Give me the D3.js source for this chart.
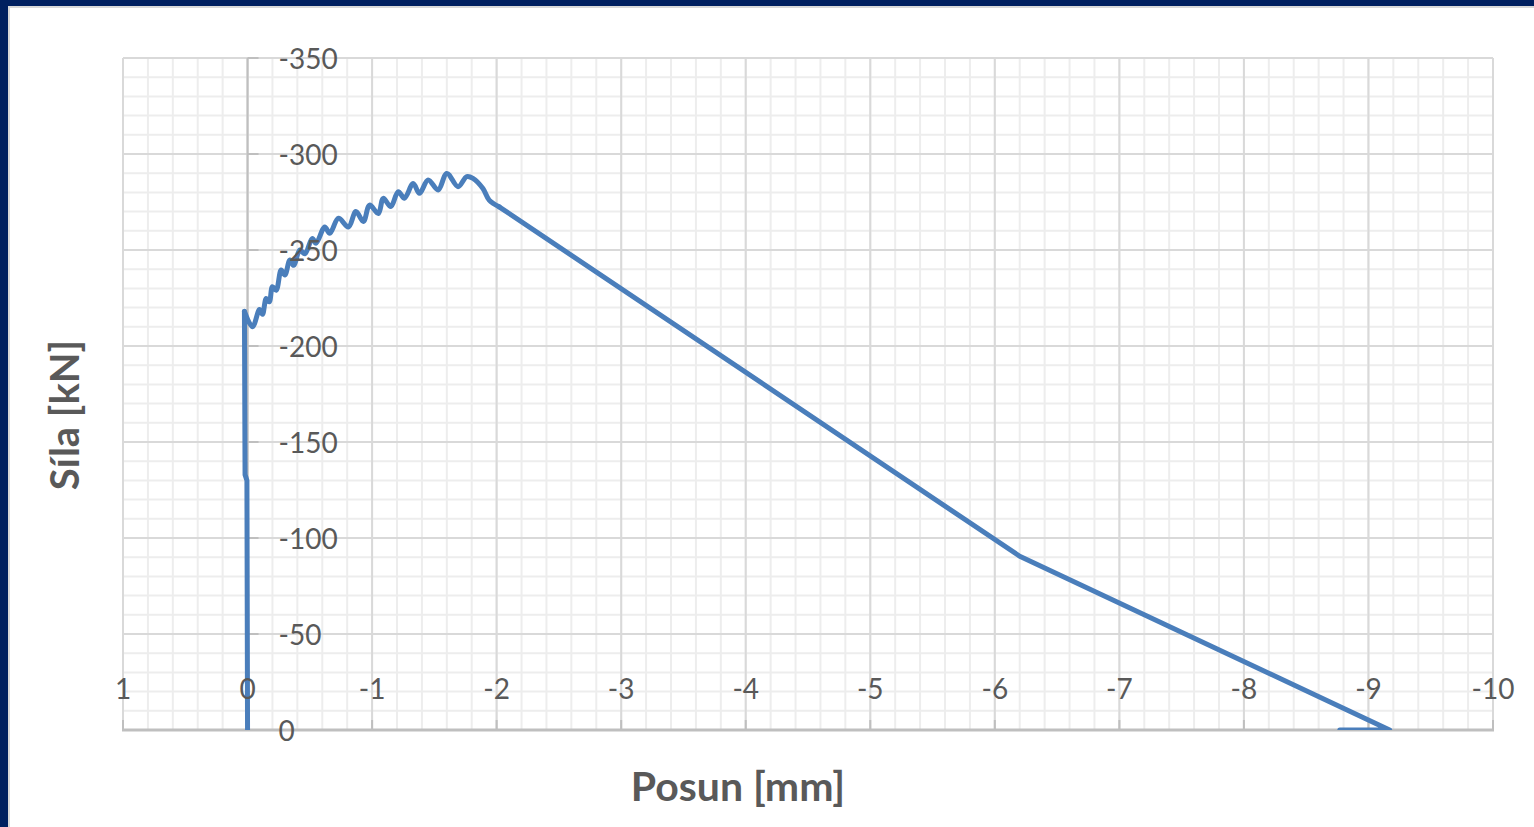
<!DOCTYPE html>
<html>
<head>
<meta charset="utf-8">
<script src="https://cdn.jsdelivr.net/npm/d3@7"></script>
<style>
  html, body { margin: 0; padding: 0; background: #002060; overflow: hidden; }
  svg { display: block; }
</style>
</head>
<body>
<svg id="chart" width="1534" height="827"></svg>
<script>
// Displacement [mm] and force [kN] of the measured load path
const posun = [0, 0.005, 0.02, 0.025, -0.04, -0.096, -0.12, -0.15, -0.175, -0.20, -0.23,
  -0.27, -0.30, -0.34, -0.37, -0.42, -0.46, -0.52, -0.55, -0.62, -0.66,
  -0.73, -0.81, -0.87, -0.93, -0.98, -1.05, -1.09, -1.15, -1.21, -1.26,
  -1.33, -1.38, -1.45, -1.53, -1.60, -1.69, -1.76, -1.81, -1.89, -1.94,
  -2.02, -6.2, -9.17, -8.77];
const sila = [0, -130, -133, -218, -210, -219, -216.5, -224.8, -223, -230.9, -229,
  -239.6, -237, -244.8, -242, -250, -248, -256, -253.5, -262, -258.7,
  -266.5, -262, -270, -264.8, -273.4, -269, -276.9, -272.6, -280.4, -277,
  -284.7, -279.5, -286.5, -281.3, -289.9, -283, -288.2, -287.3, -282, -276,
  -272.5, -90.5, 0, 0];

// Axis ticks
const xTicks = [1, 0, -1, -2, -3, -4, -5, -6, -7, -8, -9, -10];
const yTicks = [0, -50, -100, -150, -200, -250, -300, -350];

const svg = d3.select("#chart");

// chart area (white sheet inside the navy frame)
svg.append("rect")
  .attr("x", 9).attr("y", 7).attr("width", 1540).attr("height", 830)
  .attr("fill", "#ffffff").attr("stroke", "#d9d9d9").attr("stroke-width", 2);

const x = d3.scaleLinear().domain([1, -10]).range([123, 1493]);
const y = d3.scaleLinear().domain([0, -350]).range([730, 58]);

const grid = svg.append("g");

// minor gridlines
const xMinor = d3.range(0, 56).map(i => 1 - i * 0.2);
const yMinor = d3.range(0, 36).map(i => -i * 10);
grid.selectAll("line.xm").data(xMinor).join("line")
  .attr("x1", d => x(d)).attr("x2", d => x(d))
  .attr("y1", y(0)).attr("y2", y(-350))
  .attr("stroke", "#ededed").attr("stroke-width", 2);
grid.selectAll("line.ym").data(yMinor).join("line")
  .attr("y1", d => y(d)).attr("y2", d => y(d))
  .attr("x1", x(1)).attr("x2", x(-10))
  .attr("stroke", "#ededed").attr("stroke-width", 2);

// major gridlines
grid.selectAll("line.xM").data(xTicks).join("line")
  .attr("x1", d => x(d)).attr("x2", d => x(d))
  .attr("y1", y(0)).attr("y2", y(-350))
  .attr("stroke", "#d9d9d9").attr("stroke-width", 2);
grid.selectAll("line.yM").data(yTicks).join("line")
  .attr("y1", d => y(d)).attr("y2", d => y(d))
  .attr("x1", x(1)).attr("x2", x(-10))
  .attr("stroke", "#d9d9d9").attr("stroke-width", 2);

// vertical axis at x = 0 with inward ticks
const axisColor = "#bfbfbf";
svg.append("line")
  .attr("x1", x(0)).attr("x2", x(0)).attr("y1", y(0)).attr("y2", y(-350))
  .attr("stroke", axisColor).attr("stroke-width", 2);
svg.selectAll("line.yt").data(yTicks).join("line")
  .attr("x1", x(0)).attr("x2", x(0) + 11)
  .attr("y1", d => y(d)).attr("y2", d => y(d))
  .attr("stroke", axisColor).attr("stroke-width", 2);

// horizontal axis at y = 0 with upward ticks
svg.append("line")
  .attr("x1", x(1) - 1).attr("x2", x(-10) + 1).attr("y1", y(0)).attr("y2", y(0))
  .attr("stroke", axisColor).attr("stroke-width", 3);
svg.selectAll("line.xt").data(xTicks).join("line")
  .attr("x1", d => x(d)).attr("x2", d => x(d))
  .attr("y1", y(0)).attr("y2", y(0) - 10)
  .attr("stroke", axisColor).attr("stroke-width", 2);

// data series, clipped to the plot area
svg.append("clipPath").attr("id", "plotClip")
  .append("rect").attr("x", x(1)).attr("y", y(-350))
  .attr("width", x(-10) - x(1)).attr("height", y(0) - y(-350));

const pts = posun.map((v, i) => [v, sila[i]]);
const straight = d3.line().x(d => x(d[0])).y(d => y(d[1]));
const smooth = d3.line().x(d => x(d[0])).y(d => y(d[1]))
  .curve(d3.curveCatmullRom.alpha(0.5));

// elastic rise and softening branch are straight, the hardening part is smooth
const pieces = [
  { d: pts.slice(0, 4), gen: straight },
  { d: pts.slice(3, 42), gen: smooth },
  { d: pts.slice(41), gen: straight }
];
svg.append("g").attr("clip-path", "url(#plotClip)")
  .selectAll("path").data(pieces).join("path")
  .attr("d", p => p.gen(p.d))
  .attr("fill", "none")
  .attr("stroke", "#4a7ebb")
  .attr("stroke-width", 5)
  .attr("stroke-linejoin", "round")
  .attr("stroke-linecap", "round");

// tick labels
const labelFont = "Lato, 'Open Sans', sans-serif";
svg.selectAll("text.xl").data(xTicks).join("text")
  .attr("x", d => x(d)).attr("y", y(0) - 42)
  .attr("text-anchor", "middle").attr("dominant-baseline", "central")
  .attr("font-family", labelFont).attr("font-size", 28).attr("fill", "#595959")
  .text(d => d3.format("d")(d).replace("−", "-"));
svg.selectAll("text.yl").data(yTicks).join("text")
  .attr("x", x(0) + 31).attr("y", d => y(d))
  .attr("text-anchor", "start").attr("dominant-baseline", "central")
  .attr("font-family", labelFont).attr("font-size", 28).attr("fill", "#595959")
  .text(d => d3.format("d")(d).replace("−", "-"));

// axis titles
svg.append("text")
  .attr("x", 738).attr("y", 785)
  .attr("text-anchor", "middle").attr("dominant-baseline", "central")
  .attr("font-family", labelFont).attr("font-weight", "bold")
  .attr("font-size", 41).attr("fill", "#595959")
  .text("Posun [mm]");
svg.append("text")
  .attr("transform", "translate(64,415) rotate(-90)")
  .attr("text-anchor", "middle").attr("dominant-baseline", "central")
  .attr("font-family", labelFont).attr("font-weight", "bold")
  .attr("font-size", 40).attr("fill", "#595959")
  .text("Síla [kN]");
</script>
</body>
</html>
